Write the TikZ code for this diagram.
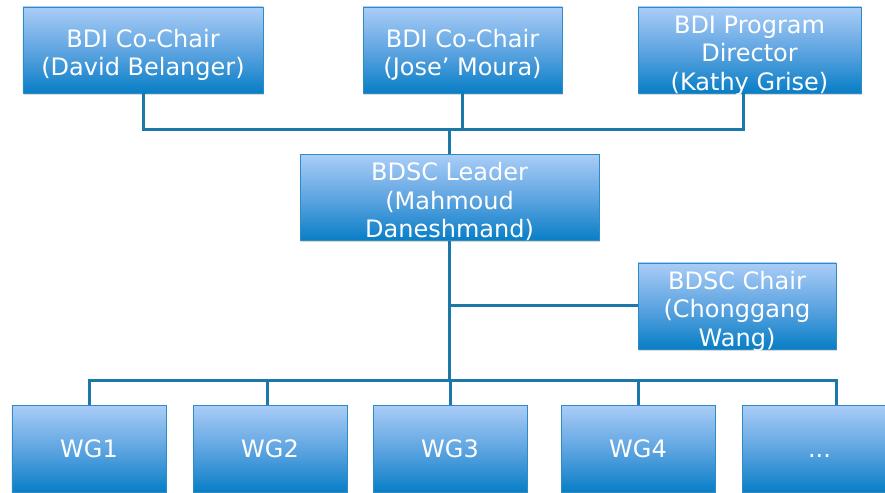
\documentclass[tikz,border=0pt]{standalone}
\usepackage{fontspec}
\setmainfont{DejaVu Sans}
\usetikzlibrary{shadows}
\definecolor{boxtop}{RGB}{170,205,247}
\definecolor{boxmid}{RGB}{95,165,225}
\definecolor{boxbot}{RGB}{8,126,198}
\definecolor{boxline}{RGB}{45,140,195}
\definecolor{connc}{RGB}{28,120,168}
\newcommand{\toppad}{\rule{0pt}{23.5bp}}
\tikzset{
  orgbox/.style={rectangle, draw=boxline, line width=0.8bp,
    top color=boxtop, bottom color=boxbot, middle color=boxmid,
    text=white, align=center, inner xsep=2bp, inner ysep=0bp,
    font=\fontsize{24bp}{28.5bp}\selectfont,
    drop shadow={opacity=0.3, shadow xshift=1.2bp, shadow yshift=-1.8bp}},
  multibox/.style={orgbox, text depth=0bp},
  conn/.style={draw=connc, line width=3bp}
}
\begin{document}
\begin{tikzpicture}[x=1bp,y=-1bp]
\clip (0,0) rectangle (885,493);
\fill[white] (0,0) rectangle (885,493);
% top row
\node[multibox, minimum width=240bp, minimum height=86bp] (c1) at (143,50) {\toppad BDI Co-Chair\\(David Belanger)};
\node[multibox, minimum width=199bp, minimum height=86bp] (c2) at (462.5,50) {\toppad BDI Co-Chair\\(Jose’ Moura)};
\node[multibox, minimum width=223bp, minimum height=86bp] (dir) at (749.5,50) {\toppad BDI Program\\Director\\(Kathy Grise)};
% leader and chair
\node[multibox, minimum width=299bp, minimum height=86bp] (lead) at (449.5,197.5) {\toppad BDSC Leader\\(Mahmoud\\Daneshmand)};
\node[multibox, minimum width=198bp, minimum height=86bp] (ch) at (737,306) {\toppad BDSC Chair\\(Chonggang\\Wang)};
% working groups
\node[orgbox, minimum width=154bp, minimum height=87bp] (wg1) at (89,448.5) {WG1};
\node[orgbox, minimum width=154bp, minimum height=87bp] (wg2) at (270,448.5) {WG2};
\node[orgbox, minimum width=154bp, minimum height=87bp] (wg3) at (450,448.5) {WG3};
\node[orgbox, minimum width=154bp, minimum height=87bp] (wg4) at (638,448.5) {WG4};
\node[orgbox, minimum width=155bp, minimum height=87bp] (wg5) at (819.5,448.5) {\vphantom{WG}...};
% bus coordinates
\coordinate (topbus) at (450,130);
\coordinate (botbus) at (450,380);
\coordinate (dirdrop) at (743,93);
\coordinate (wg5drop) at (836,405);
% top connectors
\draw[conn] (c1.south) |- (dirdrop |- topbus) -- (dirdrop);
\draw[conn] (c2.south) -- (c2.south |- topbus);
\draw[conn] (lead.north) -- (lead.north |- topbus);
% leader down
\draw[conn] (lead.south) -- (lead.south |- botbus);
\draw[conn] (lead.south |- ch.west) -- (ch.west);
% bottom bus
\draw[conn] (wg1.north) |- (wg5drop |- botbus) -- (wg5drop);
\draw[conn] ([xshift=-3bp]wg2.north) -- ([xshift=-3bp]wg2.north |- botbus);
\draw[conn] (wg3.north) -- (wg3.north |- botbus);
\draw[conn] (wg4.north) -- (wg4.north |- botbus);
\end{tikzpicture}
\end{document}
